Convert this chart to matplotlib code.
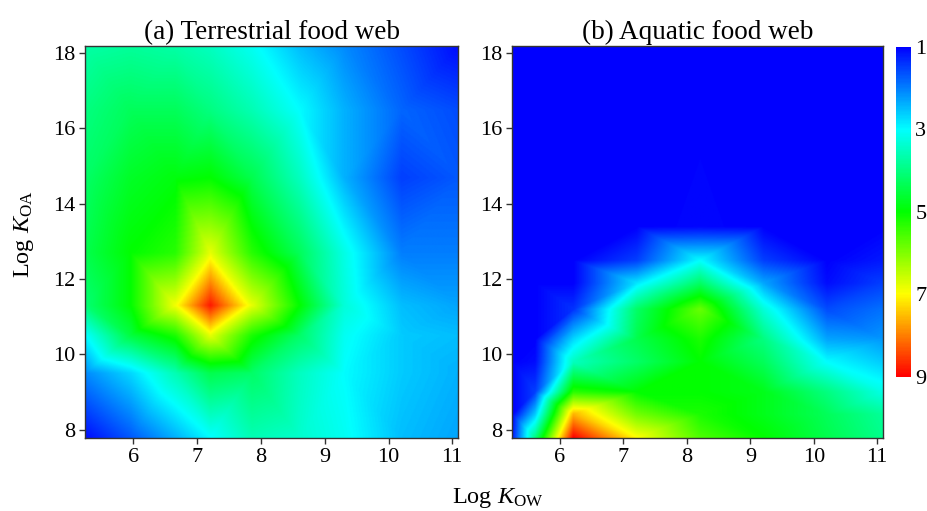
import numpy as np
import matplotlib
matplotlib.use("Agg")
import matplotlib.pyplot as plt
import matplotlib.tri as mtri
from matplotlib.colors import LinearSegmentedColormap

plt.rcParams['font.family'] = ['Liberation Serif', 'DejaVu Serif']
plt.rcParams['mathtext.fontset'] = 'custom'
plt.rcParams['mathtext.rm'] = 'Liberation Serif'
plt.rcParams['mathtext.it'] = 'Liberation Serif:italic'

# (a) terrestrial food web, grid nodes (log Kow across, log Koa up)
kow_a = [5.24, 5.95, 6.65, 7.2, 7.85, 8.6, 9.3, 10.2, 11.09]
koa_a = [7.78, 9.5, 10.5, 11.3, 12.7, 14.7, 16.5, 18.19]
tmf_a = [
    [1.1, 1.7, 2.4, 3.0, 3.6, 3.4, 3.1, 2.5, 2.3],
    [2.1, 2.7, 3.6, 4.4, 4.2, 3.5, 3.0, 2.6, 2.4],
    [3.0, 4.5, 5.2, 6.8, 5.2, 4.2, 3.1, 2.6, 2.5],
    [4.1, 5.0, 6.9, 8.8, 6.8, 5.0, 3.3, 2.5, 2.3],
    [4.4, 5.0, 5.3, 6.8, 5.3, 4.3, 3.2, 2.0, 2.0],
    [4.2, 4.7, 4.9, 5.0, 4.4, 3.5, 2.4, 1.5, 1.7],
    [4.0, 4.3, 4.3, 4.0, 3.6, 3.0, 2.4, 1.8, 1.6],
    [3.7, 3.8, 3.7, 3.5, 3.1, 2.5, 2.1, 1.6, 1.1],
]

# (b) aquatic food web
kow_b = [5.24, 5.6, 6.2, 7.2, 8.2, 9.2, 10.2, 11.09]
koa_b = [7.78, 8.4, 9.0, 9.8, 10.4, 11.2, 11.9, 12.5, 13.4, 18.19]
tmf_b = [
    [1.2, 4.0, 9.0, 7.0, 5.6, 5.0, 4.4, 3.9],
    [1.0, 2.6, 7.6, 5.9, 5.2, 4.8, 4.3, 3.8],
    [1.0, 1.5, 5.3, 5.0, 5.0, 4.8, 4.0, 3.2],
    [1.0, 1.1, 3.5, 4.2, 5.0, 4.3, 3.0, 2.6],
    [1.0, 1.0, 2.7, 4.4, 5.2, 4.0, 2.3, 2.2],
    [1.0, 1.0, 1.4, 4.2, 5.8, 3.3, 1.6, 1.9],
    [1.0, 1.0, 1.0, 2.8, 4.2, 2.3, 1.1, 1.5],
    [1.0, 1.0, 1.0, 1.5, 3.0, 1.5, 1.0, 1.2],
    [1.0, 1.0, 1.0, 1.0, 1.05, 1.0, 1.0, 1.0],
    [1.0, 1.0, 1.0, 1.0, 1.0, 1.0, 1.0, 1.0],
]

cbar_ticks = [1, 3, 5, 7, 9]
titles = ["(a) Terrestrial food web", "(b) Aquatic food web"]

cmap = LinearSegmentedColormap.from_list(
    "bcgyr", ["#0000ff", "#00ffff", "#00ff00", "#ffff00", "#ff0000"])


def grid_triangulation(kow, koa):
    # split each cell into 2 triangles, alternating diagonals (union jack)
    nx = len(kow)
    X, Y = np.meshgrid(kow, koa)
    tris = []
    for j in range(len(koa) - 1):
        for i in range(nx - 1):
            ll, lr = j * nx + i, j * nx + i + 1
            ul, ur = ll + nx, lr + nx
            if (i + j) % 2 == 0:
                tris += [[ll, lr, ul], [lr, ur, ul]]
            else:
                tris += [[ll, lr, ur], [ll, ur, ul]]
    return mtri.Triangulation(X.ravel(), Y.ravel(), tris)


def draw_panel(ax, kow, koa, tmf, title):
    tri = grid_triangulation(kow, koa)
    interp = mtri.LinearTriInterpolator(tri, np.array(tmf).ravel())
    gx = np.linspace(kow[0], kow[-1], 500)
    gy = np.linspace(koa[0], koa[-1], 500)
    GX, GY = np.meshgrid(gx, gy)
    Z = interp(GX, GY)
    im = ax.imshow(Z, origin='lower', aspect='auto', cmap=cmap,
                   vmin=1, vmax=9, interpolation='bilinear',
                   extent=[kow[0], kow[-1], koa[0], koa[-1]])
    ax.set_xlim(kow[0], kow[-1])
    ax.set_ylim(koa[0], koa[-1])
    ax.set_xticks([6, 7, 8, 9, 10, 11])
    ax.set_yticks([8, 10, 12, 14, 16, 18])
    ax.tick_params(direction='out', length=4, width=1, labelsize=16,
                   color='#333333', pad=3)
    for sp in ax.spines.values():
        sp.set_color('#333333')
        sp.set_linewidth(1.0)
    ax.set_title(title, fontsize=19.5, pad=5)
    return im


fig = plt.figure(figsize=(9.27, 5.11), dpi=100)
ax_a = fig.add_axes([0.0917, 0.1429, 0.4024, 0.767])
ax_b = fig.add_axes([0.552, 0.1429, 0.4005, 0.767])
cax = fig.add_axes([0.9666, 0.2628, 0.0162, 0.6458])

im = draw_panel(ax_a, kow_a, koa_a, tmf_a, titles[0])
draw_panel(ax_b, kow_b, koa_b, tmf_b, titles[1])

ax_a.set_ylabel(r"Log $K_{\rm OA}$", fontsize=17.5)
ax_a.yaxis.set_label_coords(-0.131, 0.52)
fig.text(0.537, 0.016, r"Log $K_{\rm OW}$", fontsize=17.5,
         ha='center', va='baseline')

cb = fig.colorbar(im, cax=cax, ticks=cbar_ticks)
cb.outline.set_visible(False)
cax.invert_yaxis()
cax.tick_params(length=0, labelsize=16, pad=3)

fig.savefig("out.png", dpi=100)
